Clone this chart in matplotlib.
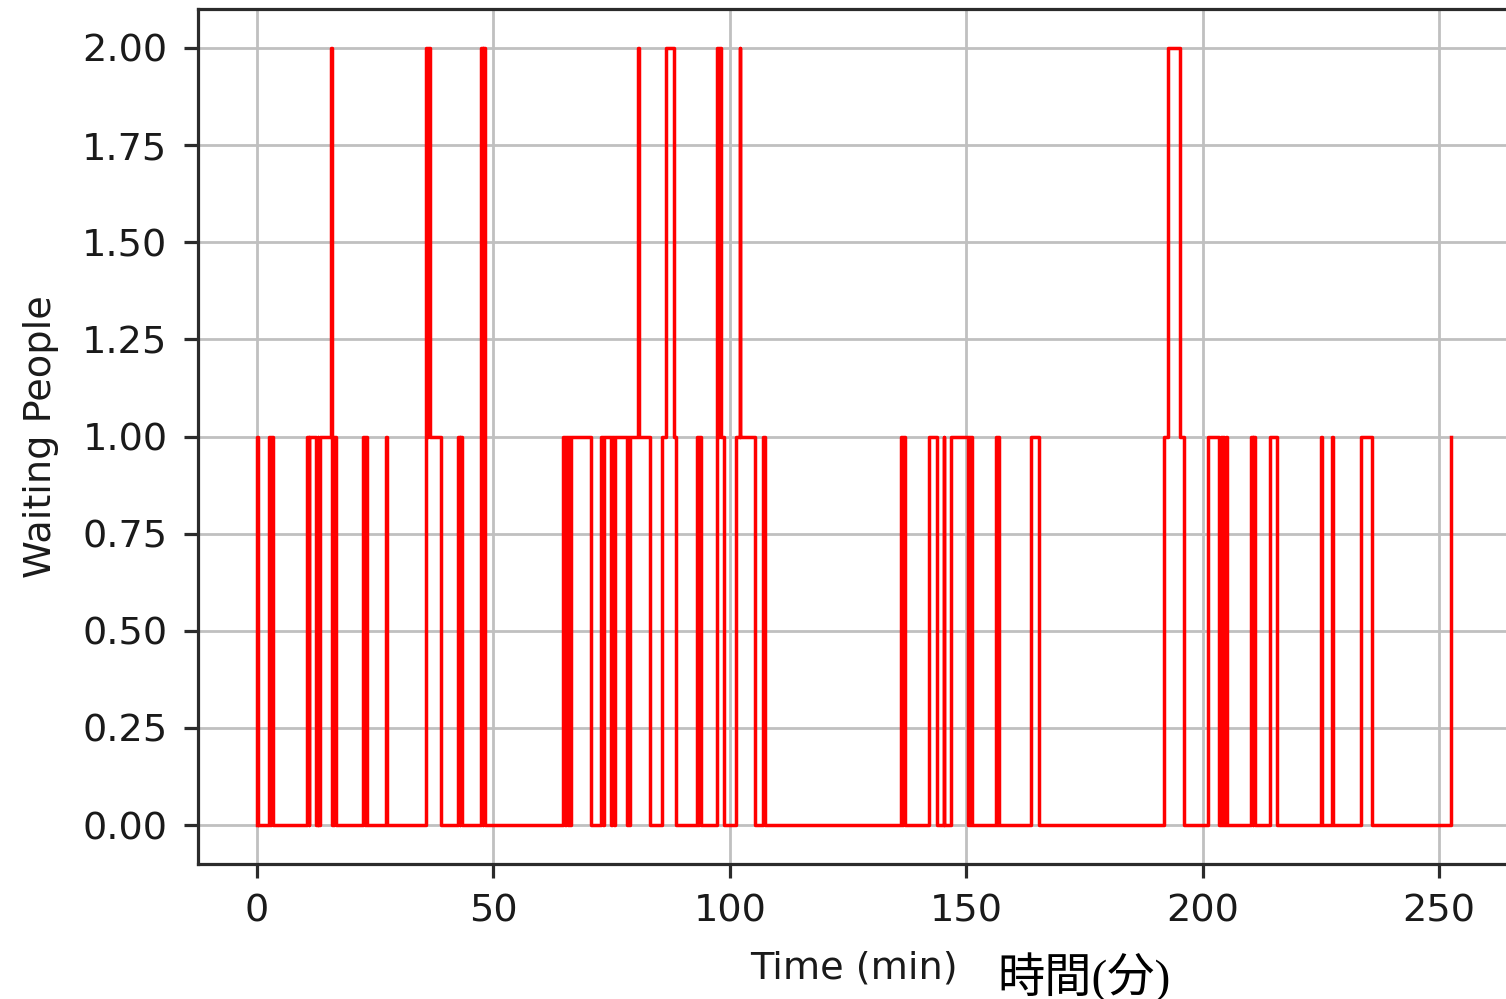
import matplotlib
matplotlib.use("Agg")
import matplotlib.pyplot as plt

# Step data: time (min) at which the number of waiting people changes, and the new value
times = [0.0, 0.05, 0.3, 2.45, 2.85, 3.05, 3.45,
         10.6, 11.0, 11.05, 12.45, 12.85, 12.95, 13.3,
         15.65, 15.8, 15.95, 16.3, 16.65,
         22.5, 22.85, 23.0, 23.35, 27.3, 27.5,
         35.65, 36.0, 36.2, 36.55, 39.0,
         42.45, 42.85, 42.95, 43.35,
         47.35, 47.8, 47.85, 48.25,
         64.8, 65.2, 65.35, 65.75, 65.9, 66.3, 66.45, 70.6,
         72.85, 73.1, 73.35, 74.8, 75.15, 75.4, 75.75,
         78.2, 78.5, 78.6, 78.9, 80.5, 80.7, 83.1,
         85.6, 86.4, 88.1, 88.7,
         92.95, 93.35, 93.5, 93.9,
         97.2, 97.6, 97.7, 98.15, 98.8,
         101.2, 102.05, 102.2, 105.3, 107.1, 107.45,
         136.15, 136.5, 136.7, 137.05,
         142.1, 143.75, 145.2, 145.4,
         146.85, 150.3, 150.6, 150.85, 151.1, 151.3,
         156.25, 156.6, 156.65, 156.95,
         163.6, 165.4,
         191.8, 192.75, 195.2, 196.05,
         201.1, 203.45, 203.8, 204.0, 204.35, 204.55, 204.9, 205.15,
         210.25, 210.6, 210.75, 211.1,
         214.25, 215.8, 224.95, 225.15, 227.4, 227.6,
         233.5, 235.75, 252.55]
waiting = [0, 1, 0, 1, 0, 1, 0,
           1, 0, 1, 0, 1, 0, 1,
           2, 1, 0, 1, 0,
           1, 0, 1, 0, 1, 0,
           2, 1, 2, 1, 0,
           1, 0, 1, 0,
           2, 0, 2, 0,
           1, 0, 1, 0, 1, 0, 1, 0,
           1, 0, 1, 0, 1, 0, 1,
           0, 1, 0, 1, 2, 1, 0,
           1, 2, 1, 0,
           1, 0, 1, 0,
           2, 1, 2, 1, 0,
           1, 2, 1, 0, 1, 0,
           1, 0, 1, 0,
           1, 0, 1, 0,
           1, 0, 1, 0, 1, 0,
           1, 0, 1, 0,
           1, 0,
           1, 2, 1, 0,
           1, 0, 1, 0, 1, 0, 1, 0,
           1, 0, 1, 0,
           1, 0, 1, 0, 1, 0,
           1, 0, 1]

xticks = [0, 50, 100, 150, 200, 250]
yticks = [0.0, 0.25, 0.5, 0.75, 1.0, 1.25, 1.5, 1.75, 2.0]

plt.rcParams['font.family'] = ['DejaVu Sans']
plt.rcParams['font.size'] = 27.5

W, H = 1506, 999
fig = plt.figure(figsize=(W / 100, H / 100), dpi=100)
left, right, top, bottom = 198, 1510, 9, 864
ax = fig.add_axes([left / W, 1 - bottom / H, (right - left) / W, (bottom - top) / H])

ax.step(times, waiting, where='post', color='red', lw=2.5, zorder=3)

ax.set_xlim(-12.48, 265.0)
ax.set_ylim(-0.1, 2.1)
ax.set_xticks(xticks)
ax.set_yticks(yticks)
ax.set_yticklabels([f"{v:.2f}" for v in yticks])
ax.grid(True, color='#c0c0c0', lw=2.0, zorder=1)
ax.set_axisbelow(True)

for s in ax.spines.values():
    s.set_color('#2b2b2b')
    s.set_linewidth(2.3)
ax.tick_params(axis='both', length=10, width=2.3, color='#2b2b2b', labelcolor='#1a1a1a')
ax.tick_params(axis='x', pad=11)
ax.tick_params(axis='y', pad=12)

ax.set_xlabel('Time (min)', color='#1a1a1a')
ax.set_ylabel('Waiting People', color='#1a1a1a')
ax.xaxis.set_label_coords(0.5, -(950 - bottom) / (bottom - top))
ax.yaxis.set_label_coords((59 - left) / (right - left), 0.5)

fig.text(997 / W, 1 - 992 / H, '時間(分)', family=['Liberation Serif', 'Noto Sans CJK JP'],
         fontsize=34, ha='left', va='baseline', color='black')

fig.savefig('out.png', dpi=100)
